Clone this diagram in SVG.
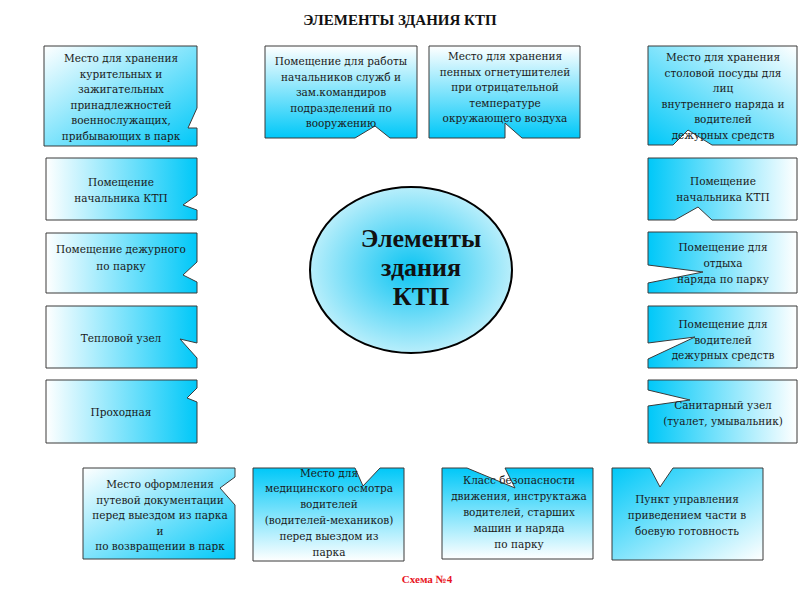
<svg xmlns="http://www.w3.org/2000/svg" width="800" height="600" viewBox="0 0 800 600">
<defs>
<linearGradient id="gWC" x1="0" y1="0" x2="1" y2="0"><stop offset="0" stop-color="#ffffff"/><stop offset="1" stop-color="#00c8f8"/></linearGradient>
<linearGradient id="gCW" x1="0" y1="0" x2="1" y2="0"><stop offset="0" stop-color="#00c8f8"/><stop offset="1" stop-color="#ffffff"/></linearGradient>
<linearGradient id="gDWC" x1="0" y1="0" x2="1" y2="1"><stop offset="0" stop-color="#ffffff"/><stop offset="1" stop-color="#00c8f8"/></linearGradient>
<linearGradient id="gDCW" x1="0" y1="0" x2="1" y2="1"><stop offset="0" stop-color="#00c8f8"/><stop offset="1" stop-color="#ffffff"/></linearGradient>
<linearGradient id="gBLTR" x1="0" y1="1" x2="1" y2="0"><stop offset="0" stop-color="#00c8f8"/><stop offset="1" stop-color="#ffffff"/></linearGradient>
<linearGradient id="gVWC" x1="0" y1="0" x2="0" y2="1"><stop offset="0" stop-color="#ffffff"/><stop offset="1" stop-color="#00c8f8"/></linearGradient>
<linearGradient id="gVCW" x1="0" y1="0" x2="0" y2="1"><stop offset="0" stop-color="#00c8f8"/><stop offset="1" stop-color="#ffffff"/></linearGradient>
<radialGradient id="gEl" cx="0.5" cy="0.5" r="0.5"><stop offset="0" stop-color="#0cc4f2"/><stop offset="1" stop-color="#b8eefb"/></radialGradient>
</defs>
<style>
.b{stroke:#3a3a3a;stroke-width:1}
.t{font-family:"DejaVu Serif","Liberation Serif",serif;font-size:10.5px;fill:#1a1a1a;text-anchor:middle}
.title{font-family:"Liberation Serif",serif;font-size:15px;font-weight:bold;fill:#111;text-anchor:middle}
.ct{font-family:"Liberation Serif",serif;font-size:26px;font-weight:bold;fill:#111;text-anchor:middle}
.cap{font-family:"Liberation Serif",serif;font-size:11px;font-weight:bold;fill:#e8141e;text-anchor:middle}
</style>
<rect width="800" height="600" fill="#ffffff"/>
<text class="title" x="400" y="25">ЭЛЕМЕНТЫ ЗДАНИЯ КТП</text>
<g id="connectors"></g>
<g id="center">
<ellipse cx="411" cy="270" rx="101" ry="83" fill="url(#gEl)" stroke="#000" stroke-width="2"/>
<text class="ct" x="421" y="247">Элементы</text>
<text class="ct" x="421" y="276">здания</text>
<text class="ct" x="421" y="305">КТП</text>
</g>
<g id="n1">
<polygon class="b" fill="url(#gDWC)" points="44,46 197,46 197,108 188,128 197,128 197,146 44,146"/>
<text class="t"><tspan x="121" y="62">Место для хранения</tspan><tspan x="121" y="77.5">курительных и</tspan><tspan x="121" y="93">зажигательных</tspan><tspan x="121" y="108.5">принадлежностей</tspan><tspan x="121" y="124">военнослужащих,</tspan><tspan x="121" y="139.5">прибывающих в парк</tspan></text>
</g>
<g id="n2">
<polygon class="b" fill="url(#gVWC)" points="265,46 417,46 417,138 390,138 375,126 355,138 265,138"/>
<text class="t"><tspan x="341" y="65">Помещение для работы</tspan><tspan x="341" y="80.5">начальников служб и</tspan><tspan x="341" y="96">зам.командиров</tspan><tspan x="341" y="111.5">подразделений по</tspan><tspan x="341" y="127">вооружению</tspan></text>
</g>
<g id="n3">
<polygon class="b" fill="url(#gVWC)" points="429,46 580,46 580,138 522,138 505,123 505,138 429,138"/>
<text class="t"><tspan x="505" y="60">Место для хранения</tspan><tspan x="505" y="75.5">пенных огнетушителей</tspan><tspan x="505" y="91">при отрицательной</tspan><tspan x="505" y="106.5">температуре</tspan><tspan x="505" y="122">окружающего воздуха</tspan></text>
</g>
<g id="n4">
<polygon class="b" fill="url(#gBLTR)" points="648,46 797,46 797,145 712,145 688,130 673,145 648,145"/>
<text class="t"><tspan x="723" y="61">Место для хранения</tspan><tspan x="723" y="76.5">столовой посуды для</tspan><tspan x="723" y="92">лиц</tspan><tspan x="723" y="107.5">внутреннего наряда и</tspan><tspan x="723" y="123">водителей</tspan><tspan x="723" y="139">дежурных средств</tspan></text>
</g>
<g id="n5">
<polygon class="b" fill="url(#gWC)" points="46,158 197,158 197,195 183,205 197,210 197,220 46,220"/>
<text class="t"><tspan x="121" y="186">Помещение</tspan><tspan x="121" y="202">начальника КТП</tspan></text>
</g>
<g id="n6">
<polygon class="b" fill="url(#gWC)" points="46,233 197,233 197,262 183,275 197,282 197,293 46,293"/>
<text class="t"><tspan x="121" y="253">Помещение дежурного</tspan><tspan x="121" y="270">по парку</tspan></text>
</g>
<g id="n7">
<polygon class="b" fill="url(#gWC)" points="46,306 197,306 197,343 180,339 197,358 197,368 46,368"/>
<text class="t" x="121" y="342">Тепловой узел</text>
</g>
<g id="n8">
<polygon class="b" fill="url(#gWC)" points="46,380 197,380 197,388 187,398 197,402 197,443 46,443"/>
<text class="t" x="121" y="416">Проходная</text>
</g>
<g id="n9">
<polygon class="b" fill="url(#gCW)" points="648,158 797,158 797,220 712,220 698,207 675,220 648,220"/>
<text class="t"><tspan x="723" y="185">Помещение</tspan><tspan x="723" y="201">начальника КТП</tspan></text>
</g>
<g id="n10">
<polygon class="b" fill="url(#gCW)" points="648,232 797,232 797,293 648,293 648,283 703,272 648,265"/>
<text class="t"><tspan x="723" y="251">Помещение для</tspan><tspan x="723" y="267">отдыха</tspan><tspan x="723" y="283">наряда по парку</tspan></text>
</g>
<g id="n11">
<polygon class="b" fill="url(#gCW)" points="648,306 797,306 797,368 648,368 648,359 695,337 648,343"/>
<text class="t"><tspan x="723" y="328">Помещение для</tspan><tspan x="723" y="344">водителей</tspan><tspan x="723" y="359">дежурных средств</tspan></text>
</g>
<g id="n12">
<polygon class="b" fill="url(#gCW)" points="648,380 797,380 797,443 648,443 648,406 690,400 648,390"/>
<text class="t"><tspan x="723" y="409">Санитарный узел</tspan><tspan x="723" y="425">(туалет, умывальник)</tspan></text>
</g>
<g id="n13">
<polygon class="b" fill="url(#gDWC)" points="83,468 235,468 235,477 220,488 235,505 235,559 83,559"/>
<text class="t"><tspan x="160" y="488">Место оформления</tspan><tspan x="160" y="503.5">путевой документации</tspan><tspan x="160" y="519">перед выездом из парка</tspan><tspan x="160" y="534.5">и</tspan><tspan x="160" y="550">по возвращении в парк</tspan></text>
</g>
<g id="n14">
<polygon class="b" fill="url(#gVCW)" points="253,468 355,468 363,486 380,468 404,468 404,561 253,561"/>
<text class="t"><tspan x="329" y="477">Место для</tspan><tspan x="329" y="492">медицинского осмотра</tspan><tspan x="329" y="508">водителей</tspan><tspan x="329" y="524">(водителей-механиков)</tspan><tspan x="329" y="540">перед  выездом из</tspan><tspan x="329" y="556">парка</tspan></text>
</g>
<g id="n15">
<polygon class="b" fill="url(#gVCW)" points="442,468 467,468 515,488 505,468 593,468 593,559 442,559"/>
<text class="t"><tspan x="519" y="484">Класс безопасности</tspan><tspan x="519" y="500">движения, инструктажа</tspan><tspan x="519" y="516">водителей, старших</tspan><tspan x="519" y="532">машин и наряда</tspan><tspan x="519" y="548">по парку</tspan></text>
</g>
<g id="n16">
<polygon class="b" fill="url(#gDCW)" points="612,468 650,468 660,487 673,468 763,468 763,560 612,560"/>
<text class="t"><tspan x="687" y="503">Пункт управления</tspan><tspan x="687" y="519">приведением части в</tspan><tspan x="687" y="535">боевую готовность</tspan></text>
</g>
<text class="cap" x="427" y="583">Схема №4</text>
</svg>
